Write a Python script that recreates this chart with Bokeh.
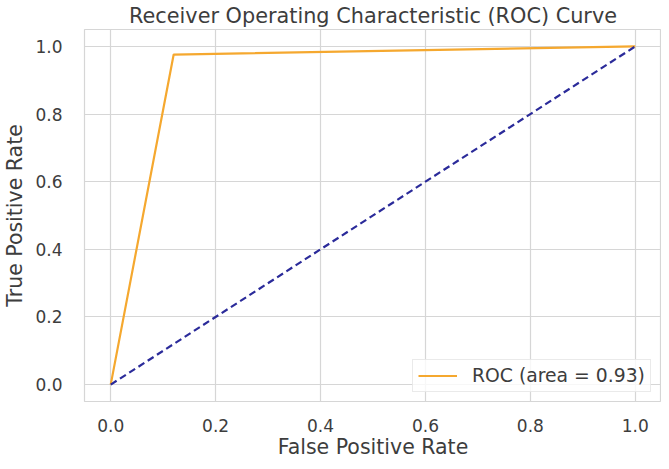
from bokeh.plotting import figure
from bokeh.embed import file_html
from bokeh.resources import INLINE
from bokeh.models import Range1d, FixedTicker, Legend, LegendItem, PrintfTickFormatter

fpr = [0.0, 0.12, 1.0]
tpr = [0.0, 0.976, 1.0]
diag_x = [0.0, 1.0]
diag_y = [0.0, 1.0]
ticks = [0.0, 0.2, 0.4, 0.6, 0.8, 1.0]
roc_label = "ROC (area = 0.93)"
title = "Receiver Operating Characteristic (ROC) Curve"

FONT = "DejaVu Sans"
TXT = "#3d3d3d"

p = figure(width=661, height=461, output_backend="svg", toolbar_location=None,
           x_range=Range1d(-0.05, 1.05), y_range=Range1d(-0.05, 1.05),
           min_border_left=79, min_border_right=0, min_border_top=0, min_border_bottom=0)

p.title.text = title
p.title.align = "center"
p.title.text_font = FONT
p.title.text_font_size = "20.8px"
p.title.text_font_style = "normal"
p.title.text_color = TXT
p.title.standoff = 3

p.outline_line_color = "#d6d6d6"
p.outline_line_width = 1.2
p.background_fill_color = "white"
p.border_fill_color = "white"

for ax in (p.xaxis, p.yaxis):
    ax.ticker = FixedTicker(ticks=ticks)
    ax.formatter = PrintfTickFormatter(format="%.1f")
    ax.axis_line_color = None
    ax.major_tick_line_color = None
    ax.minor_tick_line_color = None
    ax.major_label_text_font = FONT
    ax.major_label_text_font_size = "17px"
    ax.major_label_text_color = TXT
    ax.axis_label_text_font = FONT
    ax.axis_label_text_font_size = "20.5px"
    ax.axis_label_text_font_style = "normal"
    ax.axis_label_text_color = TXT

p.xaxis.axis_label = "False Positive Rate"
p.yaxis.axis_label = "True Positive Rate"
p.xaxis.major_label_standoff = 11
p.xaxis.axis_label_standoff = 0
p.yaxis.major_label_standoff = 16
p.yaxis.axis_label_standoff = 5

p.xgrid.grid_line_color = "#d6d6d6"
p.ygrid.grid_line_color = "#d6d6d6"
p.xgrid.grid_line_width = 1.2
p.ygrid.grid_line_width = 1.2

r1 = p.line(fpr, tpr, line_color="#f5a82f", line_width=2.2)
p.line(diag_x, diag_y, line_color="#2b2b9a", line_width=2.2, line_dash="7 4")

legend = Legend(items=[LegendItem(label=roc_label, renderers=[r1])],
                location=(328, 9))
legend.label_text_font = FONT
legend.label_text_font_size = "18.8px"
legend.label_text_color = TXT
legend.border_line_color = "#d6d6d6"
legend.border_line_width = 1
legend.background_fill_alpha = 0.8
legend.glyph_width = 39
legend.glyph_height = 19
legend.label_height = 19
legend.padding = 5
legend.margin = 0
legend.label_standoff = 15
p.add_layout(legend)

open("out.html", "w").write(file_html(p, INLINE))
